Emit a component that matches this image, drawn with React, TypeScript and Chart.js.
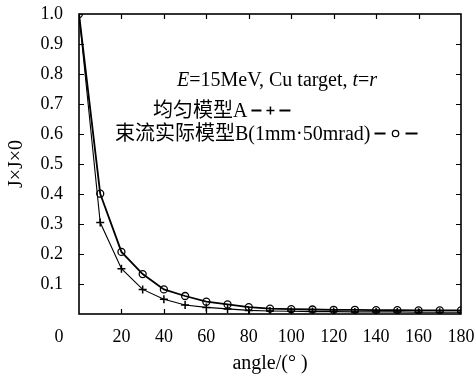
import React, { useEffect, useRef } from "react";
import { Chart, registerables } from "chart.js";

Chart.register(...registerables);

const angles = [0, 10, 20, 30, 40, 50, 60, 70, 80, 90, 100, 110, 120, 130, 140, 150, 160, 170, 180];
const modelA = [1.0, 0.305, 0.151, 0.082, 0.049, 0.030, 0.022, 0.017, 0.012, 0.010, 0.009, 0.008, 0.008, 0.007, 0.007, 0.007, 0.006, 0.006, 0.006];
const modelB = [1.0, 0.401, 0.207, 0.133, 0.082, 0.060, 0.041, 0.032, 0.023, 0.018, 0.016, 0.015, 0.014, 0.014, 0.013, 0.013, 0.012, 0.012, 0.012];

const labelA = "均匀模型A";
const labelB = "束流实际模型B(1mm·50mrad)";
const xTitle = "angle/(° )";
const yTitle = "J×J×0";

const SERIF = "'Liberation Serif', 'Times New Roman', 'Noto Sans CJK SC', serif";

const framePlugin = {
  id: "frame",
  afterDraw(chart: any) {
    const { ctx, chartArea: a, scales } = chart;
    const xs = scales.x;
    const ys = scales.y;
    ctx.save();
    ctx.setLineDash([]);
    ctx.strokeStyle = "#000000";
    ctx.lineWidth = 1.6;
    ctx.strokeRect(a.left, a.top, a.right - a.left, a.bottom - a.top);
    ctx.lineWidth = 1.2;
    ctx.beginPath();
    ys.ticks.forEach((t: any) => {
      if (t.value <= 0.0001 || t.value >= 0.9999) return;
      const py = Math.round(ys.getPixelForValue(t.value)) + 0.5;
      ctx.moveTo(a.left, py);
      ctx.lineTo(a.left + 5, py);
      ctx.moveTo(a.right, py);
      ctx.lineTo(a.right - 5, py);
    });
    xs.ticks.forEach((t: any) => {
      if (t.value <= 0 || t.value >= 180) return;
      const px = Math.round(xs.getPixelForValue(t.value)) + 0.5;
      ctx.moveTo(px, a.bottom);
      ctx.lineTo(px, a.bottom - 5);
      ctx.moveTo(px, a.top);
      ctx.lineTo(px, a.top + 5);
    });
    ctx.stroke();

    // "0" tick label, set left of the axis as in the reference
    ctx.fillStyle = "#000";
    ctx.font = `18px ${SERIF}`;
    ctx.textAlign = "center";
    ctx.textBaseline = "middle";
    ctx.fillText("0", xs.getPixelForValue(0) - 20, a.bottom + 23);

    // annotation
    ctx.textAlign = "left";
    ctx.textBaseline = "alphabetic";
    const segs: [string, boolean][] = [
      ["E", true],
      ["=15MeV, Cu target, ", false],
      ["t", true],
      ["=", false],
      ["r", true],
    ];
    let x = 177;
    segs.forEach(([s, it]) => {
      ctx.font = `${it ? "italic " : ""}20px ${SERIF}`;
      ctx.fillText(s, x, 86);
      x += ctx.measureText(s).width;
    });

    ctx.font = `20px ${SERIF}`;
    ctx.fillText(labelA, 153, 117);
    let e = 153 + ctx.measureText(labelA).width + 4;
    ctx.lineWidth = 2;
    ctx.beginPath();
    ctx.moveTo(e, 110.5);
    ctx.lineTo(e + 10, 110.5);
    ctx.moveTo(e + 28, 110.5);
    ctx.lineTo(e + 39, 110.5);
    ctx.stroke();
    ctx.lineWidth = 1.5;
    ctx.beginPath();
    ctx.moveTo(e + 15, 110.5);
    ctx.lineTo(e + 23, 110.5);
    ctx.moveTo(e + 19, 106.5);
    ctx.lineTo(e + 19, 114.5);
    ctx.stroke();

    ctx.fillText(labelB, 115, 140);
    e = 115 + ctx.measureText(labelB).width + 4;
    ctx.lineWidth = 2;
    ctx.beginPath();
    ctx.moveTo(e, 133.5);
    ctx.lineTo(e + 11, 133.5);
    ctx.moveTo(e + 31, 133.5);
    ctx.lineTo(e + 43, 133.5);
    ctx.stroke();
    ctx.lineWidth = 1.3;
    ctx.beginPath();
    ctx.arc(e + 21, 133.5, 3.2, 0, Math.PI * 2);
    ctx.stroke();

    ctx.restore();
  },
};

export default function App() {
  const ref = useRef<HTMLCanvasElement>(null);
  useEffect(() => {
    if (!ref.current) return;
    const chart = new Chart(ref.current, {
      type: "line",
      data: {
        datasets: [
          {
            label: labelA,
            data: angles.map((a, i) => ({ x: a, y: modelA[i] })),
            borderColor: "#000",
            backgroundColor: "transparent",
            borderWidth: 1.1,
            pointStyle: "cross",
            pointRadius: 4,
            pointBorderWidth: 1.5,
            pointBorderColor: "#000",
            tension: 0,
          },
          {
            label: labelB,
            data: angles.map((a, i) => ({ x: a, y: modelB[i] })),
            borderColor: "#000",
            backgroundColor: "transparent",
            borderWidth: 1.8,
            pointStyle: "circle",
            pointRadius: 3.5,
            pointBorderWidth: 1.3,
            pointBorderColor: "#000",
            pointBackgroundColor: "transparent",
            tension: 0,
          },
        ],
      },
      options: {
        responsive: false,
        animation: false,
        events: [],
        layout: { padding: { left: 0, right: 15, top: 14, bottom: 0 } },
        plugins: { legend: { display: false }, tooltip: { enabled: false } },
        scales: {
          x: {
            type: "linear",
            min: 0,
            max: 180,
            afterFit: (s: any) => {
              s.height = 65;
              s.paddingLeft = 0;
              s.paddingRight = 0;
            },
            grid: { display: false, drawTicks: false },
            border: { display: false },
            ticks: {
              stepSize: 20,
              padding: 12,
              color: "#000",
              font: { family: SERIF, size: 18 },
              maxRotation: 0,
              autoSkip: false,
              callback: (v: any) => (v === 0 ? "" : String(v)),
            },
            title: {
              display: true,
              text: xTitle,
              color: "#000",
              font: { family: SERIF, size: 20 },
              padding: { top: 0, bottom: 3 },
            },
          },
          y: {
            type: "linear",
            min: 0,
            max: 1,
            afterFit: (s: any) => {
              s.width = 79;
              s.paddingTop = 0;
              s.paddingBottom = 0;
            },
            grid: { display: false, drawTicks: false },
            border: { display: false },
            ticks: {
              stepSize: 0.1,
              padding: 16,
              color: "#000",
              font: { family: SERIF, size: 18 },
              autoSkip: false,
              callback: (v: any) => (Math.abs(v) < 1e-6 ? "" : Number(v).toFixed(1)),
            },
            title: {
              display: true,
              text: yTitle,
              color: "#000",
              font: { family: SERIF, size: 20 },
              padding: { top: 5, bottom: 0 },
            },
          },
        },
      },
      plugins: [framePlugin],
    });
    return () => chart.destroy();
  }, []);
  return (
    <div style={{ position: "fixed", left: 0, top: 0, width: 476, height: 379, background: "#fff" }}>
      <canvas ref={ref} width={476} height={379} style={{ display: "block" }} />
    </div>
  );
}
